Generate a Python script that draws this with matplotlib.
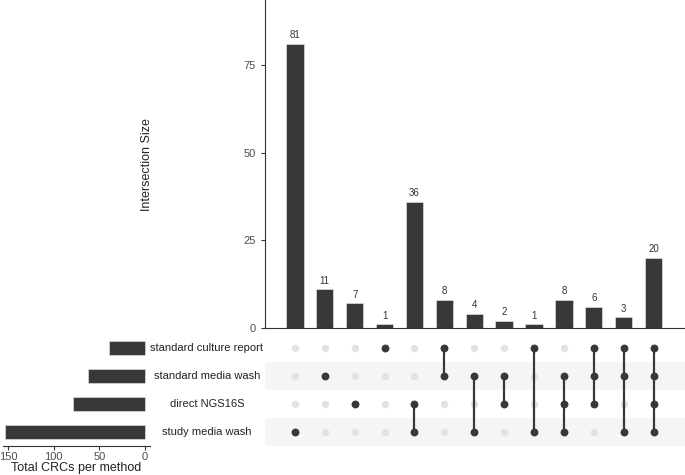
import matplotlib.pyplot as plt
from matplotlib.transforms import blended_transform_factory

plt.rcParams['font.family'] = ['Liberation Sans', 'DejaVu Sans']

# set names, top to bottom in the matrix
sets = ['standard culture report', 'standard media wash', 'direct NGS16S', 'study media wash']
set_totals = [39, 62, 79, 153]

# intersections, left to right
intersections = [
    ['study media wash'],
    ['standard media wash'],
    ['direct NGS16S'],
    ['standard culture report'],
    ['direct NGS16S', 'study media wash'],
    ['standard culture report', 'standard media wash'],
    ['standard media wash', 'study media wash'],
    ['standard media wash', 'direct NGS16S'],
    ['standard culture report', 'study media wash'],
    ['standard media wash', 'direct NGS16S', 'study media wash'],
    ['standard culture report', 'standard media wash', 'direct NGS16S'],
    ['standard culture report', 'standard media wash', 'study media wash'],
    ['standard culture report', 'standard media wash', 'direct NGS16S', 'study media wash'],
]
sizes = [81, 11, 7, 1, 36, 8, 4, 2, 1, 8, 6, 3, 20]

dark = '#383838'
light = '#e2e2e2'
txt = '#4d4d4d'

fig = plt.figure(figsize=(6.85, 4.75), dpi=100)
W, H = 685, 475


def px_axes(x0, y0, x1, y1):
    return fig.add_axes([x0 / W, 1 - y1 / H, (x1 - x0) / W, (y1 - y0) / H])


xs = list(range(len(sizes)))
xlim = (-1.0, 13.05)

# intersection size bars
ax_bar = px_axes(265, 0, 685, 328)
ax_bar.bar(xs, sizes, width=0.58, color=dark, edgecolor='#dddddd', linewidth=0.5)
for x, s in zip(xs, sizes):
    ax_bar.text(x, s + 1.0, str(s), ha='center', va='bottom', fontsize=7, color='#333333')
ax_bar.set_xlim(*xlim)
ax_bar.set_ylim(0, 93.5)
ax_bar.set_yticks([0, 25, 50, 75])
ax_bar.set_xticks([])
ax_bar.tick_params(axis='y', labelsize=8, labelcolor=txt, length=3, color='#333333', width=0.8)
for side in ['top', 'right']:
    ax_bar.spines[side].set_visible(False)
for side in ['left', 'bottom']:
    ax_bar.spines[side].set_color('#333333')
    ax_bar.spines[side].set_linewidth(0.8)
fig.text(147 / W, 1 - 165 / H, 'Intersection Size', rotation=90, ha='center', va='center',
         fontsize=9, color='#222222')

# matrix
ax_m = px_axes(265, 334, 685, 446)
ax_m.set_xlim(*xlim)
ax_m.set_ylim(len(sets) - 0.5, -0.5)
for i in range(len(sets)):
    if i % 2 == 1:
        ax_m.axhspan(i - 0.5, i + 0.5, color='#f5f5f5', zorder=0, lw=0)
for x, members in zip(xs, intersections):
    rows = [sets.index(m) for m in members]
    ax_m.scatter([x] * len(sets), range(len(sets)), s=28, color=light, zorder=2, lw=0)
    if len(rows) > 1:
        ax_m.plot([x, x], [min(rows), max(rows)], color=dark, lw=1.6, zorder=3)
    ax_m.scatter([x] * len(rows), rows, s=32, color=dark, zorder=4, lw=0)
ax_m.axis('off')

# set labels
trans = blended_transform_factory(fig.transFigure, ax_m.transData)
for i, name in enumerate(sets):
    ax_m.text(207 / W, i, name, transform=trans, ha='center', va='center', fontsize=8,
              color='#222222', clip_on=False)

# set size bars
ax_s = px_axes(3, 334, 150, 446)
ax_s.barh(range(len(sets)), set_totals, height=0.5, color=dark, edgecolor='#dddddd', linewidth=0.5)
ax_s.set_ylim(len(sets) - 0.5, -0.5)
ax_s.set_xlim(155.5, -5.5)
ax_s.set_xticks([150, 100, 50, 0])
ax_s.set_yticks([])
ax_s.tick_params(axis='x', labelsize=8, labelcolor=txt, length=3, color='#333333', width=0.8, pad=1)
for side in ['top', 'right', 'left']:
    ax_s.spines[side].set_visible(False)
ax_s.spines['bottom'].set_color('#333333')
ax_s.spines['bottom'].set_linewidth(0.8)
ax_s.set_xlabel('Total CRCs per method', fontsize=9, color='#222222', labelpad=0)

fig.savefig('out.png', dpi=100)
